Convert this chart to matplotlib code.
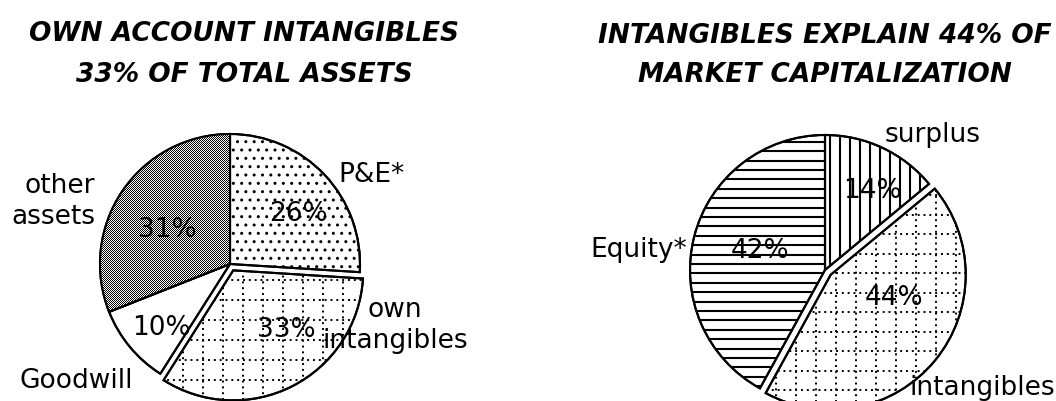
import numpy as np
import matplotlib.pyplot as plt

W, H = 1056, 401

# left pie: composition of total assets
assets_labels = ['P&E*', 'own\nintangibles', 'Goodwill', 'other\nassets']
assets_pct = [26, 33, 10, 31]

# right pie: composition of market capitalization
market_labels = ['surplus', 'intangibles', 'Equity*']
market_pct = [14, 44, 42]

left_title = ['OWN ACCOUNT INTANGIBLES', '33% OF TOTAL ASSETS']
right_title = ['INTANGIBLES EXPLAIN 44% OF', 'MARKET CAPITALIZATION']

plt.rcParams['font.family'] = ['DejaVu Sans']
plt.rcParams['hatch.linewidth'] = 1.0

fig = plt.figure(figsize=(W / 100, H / 100), dpi=100)
ax = fig.add_axes([0, 0, 1, 1])


def flip(y):
    # picture rows counted from the top
    return H - y


def fill_lines(wedge, step, horizontal=True, dotted=False):
    cx, cy = wedge.center
    r = wedge.r
    ls = (0, (1, 2)) if dotted else '-'
    lw = 1.4 if dotted else 1.5
    for v in np.arange(-r, r + step, step):
        if horizontal:
            ln, = ax.plot([cx - r, cx + r], [cy + v, cy + v], color='k', lw=lw, ls=ls, zorder=1.5)
        else:
            ln, = ax.plot([cx + v, cx + v], [cy - r, cy + r], color='k', lw=lw, ls=ls, zorder=1.5)
        ln.set_clip_path(wedge)


wp = dict(edgecolor='black', linewidth=1.5, facecolor='white')

# explode in axes units (pixels here)
r_left, r_right = 130, 135
left, _ = ax.pie(assets_pct, center=(230, flip(264)), radius=r_left, startangle=90,
                 counterclock=False, explode=[0, 0.055 * r_left, 0, 0], wedgeprops=wp)
right, _ = ax.pie(market_pct, center=(825, flip(270)), radius=r_right, startangle=90,
                  counterclock=False, explode=[0, 0.055 * r_right, 0], wedgeprops=wp)

# patterns
left[0].set_hatch('..')
fill_lines(left[1], 20, True, dotted=True)
fill_lines(left[1], 20, False, dotted=True)

# pixel checkerboard for "other assets", only over that wedge's box
cx, cy = left[3].center
x0, x1 = int(cx - r_left) - 2, int(cx) + 2
y0, y1 = int(cy - r_left) - 2, int(cy + r_left) + 2
yy, xx = np.mgrid[y0:y1, x0:x1]
checker = (xx + yy) % 2
img = ax.imshow(checker, cmap='gray', vmin=0, vmax=1, extent=(x0, x1, y0, y1),
                interpolation='nearest', origin='lower', zorder=1.2)
img.set_clip_path(left[3])

fill_lines(right[0], 10, False)
fill_lines(right[1], 19.5, True, dotted=True)
fill_lines(right[1], 20, False, dotted=True)
fill_lines(right[2], 9.4, True)

# redraw the outlines on top of the fills
for w in list(left) + list(right):
    edge = plt.matplotlib.patches.Wedge(w.center, w.r, w.theta1, w.theta2,
                                        fill=False, ec='black', lw=1.5, zorder=2.5)
    ax.add_patch(edge)

fs = 19

# titles
for i, line in enumerate(left_title):
    ax.text(244, flip([41, 82][i]), line, ha='center', va='baseline',
            fontsize=fs, fontweight='bold', fontstyle='italic')
for i, line in enumerate(right_title):
    ax.text(825, flip([43, 82][i]), line, ha='center', va='baseline',
            fontsize=fs, fontweight='bold', fontstyle='italic')

# category labels
ax.text(338, flip(182), assets_labels[0], ha='left', va='baseline', fontsize=fs)
ax.text(395, flip(348), assets_labels[1], ha='center', va='baseline', fontsize=fs,
        linespacing=1.25)
ax.text(76, flip(388), assets_labels[2], ha='center', va='baseline', fontsize=fs)
ax.text(95, flip(224), assets_labels[3], ha='right', va='baseline', fontsize=fs,
        linespacing=1.25)

ax.text(933, flip(142), market_labels[0], ha='center', va='baseline', fontsize=fs)
ax.text(982, flip(395), market_labels[1], ha='center', va='baseline', fontsize=fs)
ax.text(687, flip(257), market_labels[2], ha='right', va='baseline', fontsize=fs)

# percentages
for v, (x, y) in zip(assets_pct, [(298, 221), (286, 337), (161, 335), (167, 237)]):
    ax.text(x, flip(y), f'{v}%', ha='center', va='baseline', fontsize=fs, zorder=5)
for v, (x, y) in zip(market_pct, [(872, 198), (894, 305), (760, 258)]):
    ax.text(x, flip(y), f'{v}%', ha='center', va='baseline', fontsize=fs, zorder=5)

ax.set_xlim(0, W)
ax.set_ylim(0, H)
ax.set_aspect('equal')
ax.axis('off')

fig.savefig('out.png', dpi=100, facecolor='white')
